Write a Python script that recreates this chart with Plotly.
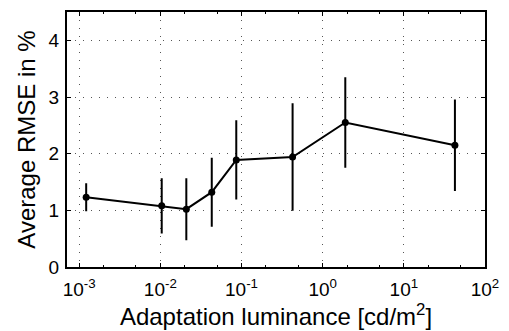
import plotly.graph_objects as go

luminance = [0.00122, 0.0104, 0.0209, 0.043, 0.0862, 0.426, 1.9, 42.6]
rmse = [1.23, 1.08, 1.02, 1.32, 1.89, 1.94, 2.55, 2.15]
err = [0.23, 0.47, 0.53, 0.59, 0.68, 0.93, 0.78, 0.79]

x_tickvals = [1e-3, 1e-2, 1e-1, 1, 10, 100]
x_ticktext = ["10<sup>-3</sup>", "10<sup>-2</sup>", "10<sup>-1</sup>",
              "10<sup>0</sup>", "10<sup>1</sup>", "10<sup>2</sup>"]
y_tickvals = [0, 1, 2, 3, 4]

fig = go.Figure()
fig.add_trace(go.Scatter(
    x=luminance, y=rmse, mode="lines+markers",
    line=dict(color="black", width=2),
    marker=dict(color="black", size=7),
    error_y=dict(type="data", array=err, visible=True, color="black",
                 thickness=2, width=1),
    showlegend=False,
))

font = "Liberation Sans, Arial, sans-serif"
grid = dict(showgrid=True, gridcolor="#555", griddash="1px,7px", gridwidth=1)
fig.update_layout(
    width=509, height=331,
    margin=dict(l=67, r=22, t=10, b=64),
    paper_bgcolor="white", plot_bgcolor="white",
    font=dict(family=font, color="black", size=19),
)
fig.update_xaxes(
    type="log", range=[-3.15, 2],
    tickvals=x_tickvals, ticktext=x_ticktext,
    ticks="inside", ticklen=4, tickwidth=1, tickcolor="black",
    showline=True, linecolor="black", linewidth=2, mirror="ticks",
    minor=dict(ticks="inside", ticklen=2, tickcolor="black", showgrid=False),
    tickfont=dict(size=19), ticklabelstandoff=4,
    title=dict(text="Adaptation luminance [cd/m<sup>2</sup>]", font=dict(size=24), standoff=4),
    zeroline=False, **grid,
)
fig.update_yaxes(
    range=[0, 4.5], tickvals=y_tickvals,
    ticks="inside", ticklen=4, tickwidth=1, tickcolor="black",
    showline=True, linecolor="black", linewidth=2, mirror="ticks",
    tickfont=dict(size=19), ticklabelstandoff=2,
    title=dict(text="Average RMSE in %", font=dict(size=24), standoff=6),
    zeroline=False, **grid,
)

fig.write_html("out.html")
